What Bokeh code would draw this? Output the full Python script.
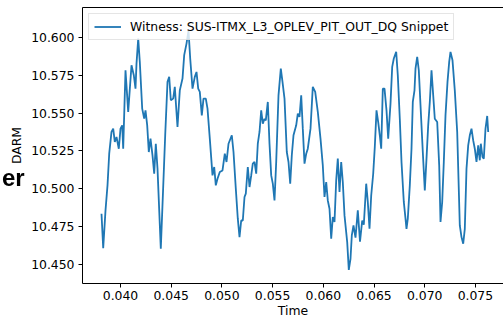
from bokeh.plotting import figure
from bokeh.models import (Range1d, LinearAxis, FixedTicker, NumeralTickFormatter,
                          Legend, LegendItem, Div)
from bokeh.layouts import column
from bokeh.embed import file_html
from bokeh.resources import INLINE

# ---- data ----
time = [
    0.038126, 0.038294, 0.038521, 0.038718, 0.038886, 0.039112, 0.039280, 0.039438, 0.039606, 0.039832,
    0.040000, 0.040168, 0.040266, 0.040493, 0.040759, 0.041085, 0.041312, 0.041479, 0.041578, 0.041746,
    0.041903, 0.042140, 0.042337, 0.042465, 0.042633, 0.042791, 0.042959, 0.043156, 0.043323, 0.043481,
    0.043649, 0.043974, 0.044408, 0.044635, 0.044803, 0.044961, 0.045197, 0.045355, 0.045454, 0.045621,
    0.045848, 0.046114, 0.046282, 0.046509, 0.046706, 0.046874, 0.047101, 0.047327, 0.047495, 0.047663,
    0.047821, 0.048018, 0.048185, 0.048412, 0.048580, 0.048807, 0.049073, 0.049241, 0.049398, 0.049566,
    0.049793, 0.050059, 0.050286, 0.050454, 0.050651, 0.050976, 0.051144, 0.051371, 0.051568, 0.051736,
    0.051903, 0.052061, 0.052229, 0.052357, 0.052554, 0.052722, 0.052890, 0.053047, 0.053215, 0.053383,
    0.053540, 0.053708, 0.053876, 0.054034, 0.054201, 0.054329, 0.054527, 0.054694, 0.054862, 0.055020,
    0.055187, 0.055355, 0.055582, 0.055809, 0.055976, 0.056174, 0.056400, 0.056568, 0.056736, 0.056893,
    0.057061, 0.057327, 0.057485, 0.057653, 0.057821, 0.057978, 0.058146, 0.058314, 0.058471, 0.058738,
    0.058964, 0.059201, 0.059458, 0.059724, 0.059951, 0.060118, 0.060286, 0.060444, 0.060611, 0.060779,
    0.060937, 0.061105, 0.061272, 0.061430, 0.061598, 0.061765, 0.061923, 0.062091, 0.062357, 0.062515,
    0.062682, 0.062811, 0.062978, 0.063176, 0.063402, 0.063619, 0.063836, 0.063994, 0.064231, 0.064389,
    0.064556, 0.064724, 0.064921, 0.065079, 0.065247, 0.065414, 0.065572, 0.065710, 0.065868, 0.066036,
    0.066233, 0.066400, 0.066627, 0.066795, 0.066953, 0.067189, 0.067347, 0.067544, 0.067712, 0.067939,
    0.068107, 0.068205, 0.068333, 0.068531, 0.068698, 0.068826, 0.068994, 0.069093, 0.069260, 0.069418,
    0.069586, 0.069813, 0.070010, 0.070178, 0.070345, 0.070503, 0.070671, 0.070838, 0.070996, 0.071233,
    0.071430, 0.071558, 0.071726, 0.071884, 0.072051, 0.072249, 0.072416, 0.072544, 0.072742, 0.072968,
    0.073205, 0.073462, 0.073629, 0.073797, 0.073955, 0.074122, 0.074290, 0.074448, 0.074615, 0.074783,
    0.074941, 0.075108, 0.075276, 0.075434, 0.075533, 0.075700, 0.075828, 0.075996, 0.076164, 0.076262,
]
darm = [
    10.4834, 10.4606, 10.4856, 10.5022, 10.5232, 10.5376, 10.5398, 10.5310, 10.5343, 10.5265,
    10.5398, 10.5420, 10.5265, 10.5785, 10.5509, 10.5818, 10.5752, 10.5663, 10.5829, 10.5995,
    10.5841, 10.5531, 10.5464, 10.5519, 10.5420, 10.5243, 10.5332, 10.5221, 10.5099, 10.5298,
    10.5133, 10.4602, 10.5354, 10.5708, 10.5741, 10.5586, 10.5597, 10.5675, 10.5575, 10.5409,
    10.5652, 10.5730, 10.5885, 10.5962, 10.6048, 10.5863, 10.5663, 10.5741, 10.5774, 10.5663,
    10.5642, 10.5486, 10.5597, 10.5597, 10.5531, 10.5332, 10.5088, 10.5144, 10.5022, 10.5066,
    10.5111, 10.5121, 10.5232, 10.5177, 10.5298, 10.5354, 10.5243, 10.5000, 10.4801, 10.4679,
    10.4789, 10.4789, 10.4945, 10.4967, 10.5144, 10.5011, 10.5088, 10.5166, 10.5177, 10.5099,
    10.5298, 10.5376, 10.5519, 10.5431, 10.5464, 10.5453, 10.5575, 10.5298, 10.5088, 10.5033,
    10.4922, 10.5177, 10.5619, 10.5796, 10.5708, 10.5597, 10.5243, 10.5177, 10.5033, 10.5221,
    10.5354, 10.5420, 10.5498, 10.5476, 10.5619, 10.5398, 10.5166, 10.5232, 10.5265, 10.5398,
    10.5675, 10.5642, 10.5509, 10.5332, 10.5154, 10.4945, 10.5044, 10.4922, 10.4867, 10.4668,
    10.4812, 10.4779, 10.5055, 10.5199, 10.4978, 10.5177, 10.5044, 10.4823, 10.4646, 10.4462,
    10.4535, 10.4690, 10.4756, 10.4675, 10.4856, 10.4648, 10.4789, 10.4761, 10.5033, 10.4912,
    10.4734, 10.4955, 10.5099, 10.5277, 10.5519, 10.5442, 10.5354, 10.5265, 10.5663, 10.5663,
    10.5519, 10.5332, 10.5564, 10.5808, 10.5863, 10.5907, 10.5752, 10.5464, 10.5177, 10.4912,
    10.4801, 10.4734, 10.4801, 10.5022, 10.5265, 10.5575, 10.5652, 10.5796, 10.5874, 10.5785,
    10.5553, 10.5243, 10.4989, 10.5199, 10.5420, 10.5575, 10.5785, 10.5619, 10.5464, 10.5442,
    10.5154, 10.4779, 10.4912, 10.5177, 10.5486, 10.5708, 10.5841, 10.5907, 10.5851, 10.5652,
    10.5376, 10.4756, 10.4679, 10.4635, 10.4734, 10.5133, 10.5287, 10.5354, 10.5398, 10.5320,
    10.5265, 10.5177, 10.5287, 10.5188, 10.5298, 10.5210, 10.5199, 10.5398, 10.5482, 10.5376,
]
x_ticks = [0.040, 0.045, 0.050, 0.055, 0.060, 0.065, 0.070, 0.075]
y_ticks = [10.450, 10.475, 10.500, 10.525, 10.550, 10.575, 10.600]
series_label = "Witness: SUS-ITMX_L3_OPLEV_PIT_OUT_DQ Snippet"
edge_fragment = "er"

FONT = "DejaVu Sans"
FS = "12.4px"

p = figure(width=503, height=320, output_backend="svg", toolbar_location=None,
           x_range=Range1d(0.036252, 0.077771), y_range=Range1d(10.43714, 10.62011),
           min_border_left=82, min_border_right=0, min_border_top=7, min_border_bottom=37)

p.grid.visible = False
p.outline_line_color = None
p.background_fill_color = "white"
p.border_fill_color = "white"

r = p.line(time, darm, line_color="#1f77b4", line_width=1.8)

for ax in (p.xaxis[0], p.yaxis[0]):
    ax.axis_line_color = "black"
    ax.axis_line_width = 1
    ax.major_tick_line_color = "black"
    ax.major_tick_out = 4
    ax.major_tick_in = 0
    ax.minor_tick_line_color = None
    ax.major_label_text_font = FONT
    ax.major_label_text_font_size = FS
    ax.major_label_text_color = "black"
    ax.axis_label_text_font = FONT
    ax.axis_label_text_font_size = FS
    ax.axis_label_text_font_style = "normal"
    ax.axis_label_text_color = "black"
    ax.formatter = NumeralTickFormatter(format="0.000")

p.xaxis[0].ticker = FixedTicker(ticks=x_ticks)
p.yaxis[0].ticker = FixedTicker(ticks=y_ticks)
p.xaxis[0].axis_label = "Time"
p.yaxis[0].axis_label = "DARM"
p.xaxis[0].major_label_standoff = 3
p.xaxis[0].axis_label_standoff = 0
p.yaxis[0].major_label_standoff = 4
p.yaxis[0].axis_label_standoff = 4

top = LinearAxis(ticker=FixedTicker(ticks=[]), major_label_text_font_size="0px",
                 major_tick_out=0, major_tick_in=0, minor_tick_out=0, minor_tick_in=0,
                 axis_line_color="black", axis_line_width=1)
p.add_layout(top, "above")

legend = Legend(items=[LegendItem(label=series_label, renderers=[r])], location="top_left")
legend.label_text_font = FONT
legend.label_text_font_size = FS
legend.label_text_color = "black"
legend.border_line_color = "#cccccc"
legend.border_line_width = 1
legend.background_fill_alpha = 0.8
legend.padding = 5
legend.margin = 6
legend.spacing = 0
legend.glyph_width = 27
legend.glyph_height = 13
legend.label_height = 13
legend.label_standoff = 9
p.add_layout(legend)

# fragment of a neighbouring heading that shows at the left edge of the reference
frag = Div(text=edge_fragment, width=503, height=0,
           styles={"position": "fixed", "left": "-3px", "top": "156px", "z-index": "10",
                   "font-family": "'Liberation Sans', Arial, sans-serif", "font-weight": "bold",
                   "font-size": "24px", "color": "black", "overflow": "visible",
                   "pointer-events": "none"})

layout = column(p, frag, spacing=0)
open("out.html", "w").write(file_html(layout, INLINE))
